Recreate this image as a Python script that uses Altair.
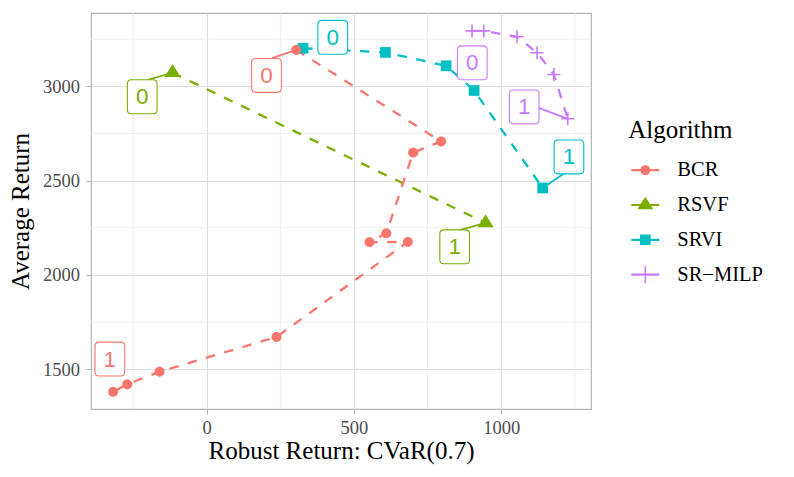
import math
import altair as alt
import pandas as pd

# ---------------- data ----------------
ALGS = ["BCR", "RSVF", "SRVI", "SR\u2212MILP"]
COLORS = ["#F8766D", "#7CAE00", "#00BFC4", "#C77CFF"]

bcr_x = [304, 796, 701, 610, 553, 683, 237, -160, -270, -318]
bcr_y = [3193, 2708, 2649, 2221, 2174, 2175, 1671, 1487, 1420, 1380]
rsvf_x = [-116, 947]
rsvf_y = [3072, 2276]
srvi_x = [327, 607, 813, 908, 1141]
srvi_y = [3202, 3180, 3109, 2978, 2461]
milp_x = [901, 941, 1054, 1122, 1179, 1226]
milp_y = [3294, 3294, 3263, 3178, 3063, 2828]

label_alg = ["BCR", "BCR", "RSVF", "RSVF", "SRVI", "SRVI", "SR\u2212MILP", "SR\u2212MILP"]
label_text = ["0", "1", "0", "1", "0", "1", "0", "1"]
label_x = [203, -329, -219, 842, 428, 1230, 902, 1078]
label_y = [3058, 1554, 2945, 2149, 3260, 2626, 3125, 2891]

seg_alg = ["BCR", "RSVF", "RSVF", "SRVI", "SR\u2212MILP"]
seg_x = [304, -116, 947, 1141, 1226]
seg_y = [3193, 3072, 2276, 2461, 2828]
seg_x2 = [222, -200, 862, 1213, 1128]
seg_y2 = [3150, 3035, 2239, 2538, 2886]

x_ticks = [0, 500, 1000]
y_ticks = [1500, 2000, 2500, 3000]
x_minor = [-250, 250, 750, 1250]
y_minor = [1750, 2250, 2750, 3250]
x_domain = [-393, 1305]
y_domain = [1289, 3389]

# ---------------- tables ----------------
series = [("SR\u2212MILP", milp_x, milp_y), ("SRVI", srvi_x, srvi_y),
          ("RSVF", rsvf_x, rsvf_y), ("BCR", bcr_x, bcr_y)]
rows = []
for alg, xs_, ys_ in series:
    for i, (xv, yv) in enumerate(zip(xs_, ys_)):
        rows.append({"alg": alg, "x": xv, "y": yv, "idx": i})
pts = pd.DataFrame(rows)
labels = pd.DataFrame({"alg": label_alg, "text": label_text, "x": label_x, "y": label_y})
segs = pd.DataFrame({"alg": seg_alg, "x": seg_x, "y": seg_y, "x2": seg_x2, "y2": seg_y2})
vminor = pd.DataFrame({"x": x_minor})
hminor = pd.DataFrame({"y": y_minor})
legend_df = pd.DataFrame({"alg": ALGS, "x": [0] * 4, "y": [2000] * 4})

# ---------------- symbol paths ----------------
def rect(x0, y0, x1, y1):
    return f"M{x0:.3f},{y0:.3f}L{x1:.3f},{y0:.3f}L{x1:.3f},{y1:.3f}L{x0:.3f},{y1:.3f}Z"

def poly(p):
    return "M" + "L".join(f"{a:.3f},{b:.3f}" for a, b in p) + "Z"

def circ(r, n=28):
    return poly([(r * math.cos(2 * math.pi * k / n), r * math.sin(2 * math.pi * k / n)) for k in range(n)])

def rounded(hw, hh, r):
    return (f"M{-hw + r},{-hh}L{hw - r},{-hh}Q{hw},{-hh} {hw},{-hh + r}"
            f"L{hw},{hh - r}Q{hw},{hh} {hw - r},{hh}"
            f"L{-hw + r},{hh}Q{-hw},{hh} {-hw},{hh - r}"
            f"L{-hw},{-hh + r}Q{-hw},{-hh} {-hw + r},{-hh}Z")

# plot symbols: size 196 -> 1 unit = 7 px
plot_shapes = [
    circ(0.714),
    poly([(0, -1.24), (1.14, 0.62), (-1.14, 0.62)]),
    rect(-0.764, -0.764, 0.764, 0.764),
    rect(-0.93, -0.114, 0.93, 0.114) + rect(-0.114, -0.93, 0.114, 0.93),
]
# legend keys: size 784 -> 1 unit = 14 px
line_key = rect(-1, -0.08, 1, 0.08)
legend_shapes = [
    line_key + circ(0.357),
    line_key + poly([(0, -0.59), (0.57, 0.30), (-0.57, 0.30)]),
    line_key + rect(-0.38, -0.38, 0.38, 0.38),
    line_key + rect(-0.6, -0.057, 0.6, 0.057) + rect(-0.057, -0.6, 0.057, 0.6),
]
box_shape = rounded(0.99, 1.13, 0.27)

# ---------------- scales / axes ----------------
SERIF = "Liberation Serif"
xs = alt.Scale(domain=x_domain, nice=False, zero=False)
ys = alt.Scale(domain=y_domain, nice=False, zero=False)
color_scale = alt.Scale(domain=ALGS, range=COLORS)

x_axis = alt.Axis(values=x_ticks, format="d", grid=True, gridColor="#DEDEDE", gridWidth=1.1,
                  domain=False, tickColor="#B3B3B3", tickSize=5, tickWidth=1.1,
                  labelColor="#4D4D4D", labelFont=SERIF, labelFontSize=18.5, labelPadding=4.5,
                  title="Robust Return: CVaR(0.7)", titleFont=SERIF, titleFontSize=25,
                  titleFontWeight="normal", titleColor="black", titleY=49,
                  titleBaseline="alphabetic")
y_axis = alt.Axis(values=y_ticks, format="d", grid=True, gridColor="#DEDEDE", gridWidth=1.1,
                  domain=False, tickColor="#B3B3B3", tickSize=5, tickWidth=1.1,
                  labelColor="#4D4D4D", labelFont=SERIF, labelFontSize=18.5, labelPadding=6.5,
                  title="Average Return", titleFont=SERIF, titleFontSize=25,
                  titleFontWeight="normal", titleColor="black", titleX=-63, titleY=198,
                  titleBaseline="alphabetic", titleAngle=270)

X = alt.X("x:Q", scale=xs, axis=x_axis)
Y = alt.Y("y:Q", scale=ys, axis=y_axis)

minor_v = alt.Chart(vminor).mark_rule(color="#EBEBEB", strokeWidth=0.8).encode(x=X)
minor_h = alt.Chart(hminor).mark_rule(color="#EBEBEB", strokeWidth=0.8).encode(y=Y)

lines = alt.Chart(pts).mark_line(strokeDash=[9.5, 9.5], strokeWidth=2.3).encode(
    x=X, y=Y,
    color=alt.Color("alg:N", scale=color_scale, legend=None),
    order=alt.Order("idx:Q"),
)

points = alt.Chart(pts).mark_point(filled=True, opacity=1, size=196, strokeWidth=0).encode(
    x=X, y=Y,
    color=alt.Color("alg:N", scale=color_scale, legend=None),
    shape=alt.Shape("alg:N", scale=alt.Scale(domain=ALGS, range=plot_shapes), legend=None),
)

segments = alt.Chart(segs).mark_rule(strokeWidth=1.8).encode(
    x=X, y=Y, x2="x2:Q", y2="y2:Q",
    color=alt.Color("alg:N", scale=color_scale, legend=None),
)

boxes = alt.Chart(labels).mark_point(shape=box_shape, size=900, opacity=1, strokeWidth=1.1).encode(
    x=X, y=Y,
    fill=alt.value("white"),
    stroke=alt.Stroke("alg:N", scale=color_scale, legend=None),
)

texts = alt.Chart(labels).mark_text(font="Liberation Sans", fontSize=22.5, baseline="alphabetic",
                                    align="center", dy=7.5).encode(
    x=X, y=Y, text="text:N",
    color=alt.Color("alg:N", scale=color_scale, legend=None),
)

leg = alt.Legend(title="Algorithm", orient="none", legendX=537.3, legendY=104.7,
                 titleFont=SERIF, titleFontSize=25, titleFontWeight="normal", titleColor="black",
                 labelFont=SERIF, labelFontSize=20.5, labelColor="black",
                 symbolSize=784, symbolOffset=3, labelOffset=18, rowPadding=9.8,
                 titlePadding=13.5, padding=0, symbolStrokeWidth=0)

legend_layer = alt.Chart(legend_df).transform_filter("false").mark_point(
    filled=True, opacity=1, size=784, strokeWidth=0).encode(
    x=X, y=Y,
    color=alt.Color("alg:N", scale=color_scale, legend=leg),
    shape=alt.Shape("alg:N", scale=alt.Scale(domain=ALGS, range=legend_shapes), legend=leg),
)

chart = alt.layer(minor_v, minor_h, lines, points, segments, boxes, texts, legend_layer).resolve_scale(
    color="independent", shape="independent", stroke="independent"
).properties(
    width=500, height=396,
    autosize=alt.AutoSizeParams(type="none"),
    padding={"left": 83, "top": 5, "right": 195, "bottom": 60},
    background="white",
).configure_view(stroke="#B3B3B3", strokeWidth=1.2)

chart.save("out.html", embed_options={"renderer": "svg", "actions": False})
